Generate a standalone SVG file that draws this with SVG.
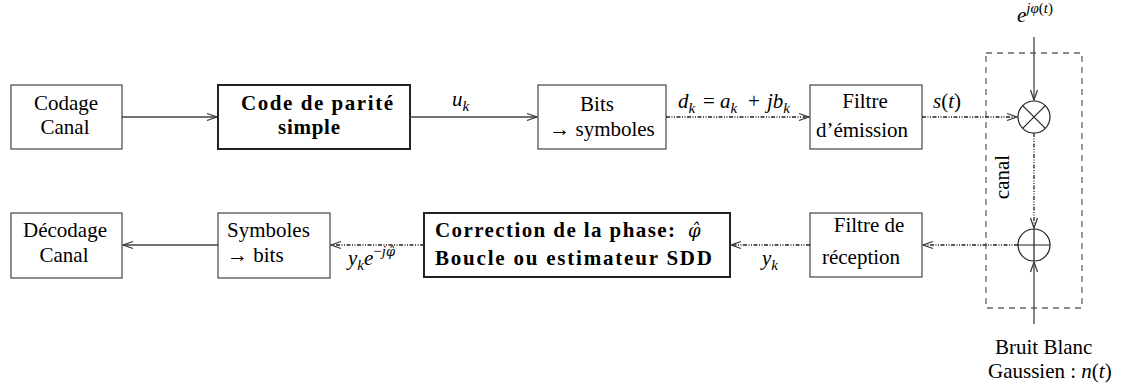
<svg xmlns="http://www.w3.org/2000/svg" width="1133" height="389" viewBox="0 0 1133 389">
<style>
  .box { fill: #fff; stroke: #444; stroke-width: 1.2; }
  .bbox { fill: #fff; stroke: #222; stroke-width: 2; }
  .t { font-family: "Liberation Serif", "Times New Roman", serif; font-size: 21px; fill: #000; }
  .b { font-weight: bold; }
  .i { font-style: italic; }
  .sub { font-size: 15px; }
  .ph { font-family: "DejaVu Serif", serif; font-style: italic; font-size: 18px; }
  .phs { font-family: "DejaVu Serif", serif; font-style: italic; font-size: 13px; }
  .solid { fill: none; stroke: #444; stroke-width: 1.3; }
  .dd { fill: none; stroke: #222; stroke-width: 1.3; stroke-dasharray: 4 1.5 1 1.5 1 1.5; }
  .chan { fill: none; stroke: #666; stroke-width: 1.3; stroke-dasharray: 6 5; }
  .op { fill: #fff; stroke: #222; stroke-width: 1.2; }
</style>
<defs>
  <marker id="arr" markerUnits="userSpaceOnUse" viewBox="0 0 12 10" refX="11" refY="5" markerWidth="12" markerHeight="10" orient="auto">
    <path d="M1,1.5 L11,5 L1,8.5" fill="none" stroke="#333" stroke-width="1.2"/>
  </marker>
</defs>

<g id="codage">
  <rect class="box" x="11" y="85" width="111" height="64"/>
  <text class="t" x="66" y="110" text-anchor="middle">Codage</text>
  <text class="t" x="65" y="134" text-anchor="middle">Canal</text>
</g>
<g id="parite">
  <rect class="bbox" x="218" y="85" width="192" height="64"/>
  <text class="t b" x="241" y="110" textLength="152" lengthAdjust="spacing">Code de parité</text>
  <text class="t b" x="278" y="134" textLength="62" lengthAdjust="spacing">simple</text>
</g>
<g id="bits-symboles">
  <rect class="box" x="538" y="85" width="128" height="64"/>
  <text class="t" x="597" y="111" text-anchor="middle">Bits</text>
  <text class="t" x="602" y="136" text-anchor="middle">→ symboles</text>
</g>
<g id="filtre-emission">
  <rect class="box" x="810" y="85" width="112" height="64"/>
  <text class="t" x="865" y="108" text-anchor="middle">Filtre</text>
  <text class="t" x="862" y="137" text-anchor="middle">d’émission</text>
</g>
<g id="canal">
  <rect class="chan" x="986" y="53" width="96" height="255"/>
  <text class="t" transform="translate(1009,177) rotate(-90)" text-anchor="middle">canal</text>
</g>
<g id="mult">
  <circle class="op" cx="1034" cy="117" r="16"/>
  <path d="M1022.7,105.7 L1045.3,128.3 M1045.3,105.7 L1022.7,128.3" stroke="#222" stroke-width="1.2"/>
</g>
<g id="add">
  <circle class="op" cx="1034" cy="245" r="16"/>
  <path d="M1018,245 L1050,245 M1034,229 L1034,261" stroke="#222" stroke-width="1.2"/>
</g>
<g id="filtre-reception">
  <rect class="box" x="810" y="213" width="112" height="64"/>
  <text class="t" x="869" y="232" text-anchor="middle">Filtre de</text>
  <text class="t" x="861" y="264" text-anchor="middle">réception</text>
</g>
<g id="correction">
  <rect class="bbox" x="424" y="213" width="306" height="64"/>
  <text class="t" x="435" y="237"><tspan class="b" textLength="240" lengthAdjust="spacing">Correction de la phase:</tspan><tspan class="ph" x="688">φ̂</tspan></text>
  <text class="t b" x="435" y="265" textLength="277" lengthAdjust="spacing">Boucle ou estimateur SDD</text>
</g>
<g id="symboles-bits">
  <rect class="box" x="218" y="213" width="112" height="65"/>
  <text class="t" x="227" y="237">Symboles</text>
  <text class="t" x="227" y="262">→ bits</text>
</g>
<g id="decodage">
  <rect class="box" x="11" y="213" width="111" height="65"/>
  <text class="t" x="65" y="237" text-anchor="middle">Décodage</text>
  <text class="t" x="64" y="262" text-anchor="middle">Canal</text>
</g>

<g id="labels">
  <text class="t i" x="452" y="106">u<tspan class="sub" dy="5">k</tspan></text>
  <text class="t" x="678" y="108"><tspan class="i">d</tspan><tspan class="sub i" dy="5">k</tspan><tspan x="703" dy="-5">=</tspan><tspan class="i" x="720">a</tspan><tspan class="sub i" dy="5">k</tspan><tspan x="748" dy="-5">+</tspan><tspan class="i" x="767">jb</tspan><tspan class="sub i" dy="5">k</tspan></text>
  <text class="t" x="933" y="108"><tspan class="i">s</tspan>(<tspan class="i">t</tspan>)</text>
  <text class="t" x="1017" y="22"><tspan class="i">e</tspan><tspan class="sub" dy="-9"><tspan class="i">jφ</tspan>(<tspan class="i">t</tspan>)</tspan></text>
  <text class="t" x="762" y="265"><tspan class="i">y</tspan><tspan class="sub i" dy="5">k</tspan></text>
  <text class="t" x="348" y="265"><tspan class="i">y</tspan><tspan class="sub i" dy="5">k</tspan><tspan class="i" dy="-5">e</tspan><tspan class="sub" dy="-9">−<tspan class="i">j</tspan><tspan class="phs">φ̂</tspan></tspan></text>
  <text class="t" x="995" y="354">Bruit Blanc</text>
  <text class="t" x="988" y="378">Gaussien : <tspan class="i">n</tspan>(<tspan class="i">t</tspan>)</text>
</g>

<g id="connectors">
  <line class="solid" x1="122" y1="117" x2="217" y2="117" marker-end="url(#arr)"/>
  <line class="solid" x1="410" y1="117" x2="537" y2="117" marker-end="url(#arr)"/>
  <line class="dd" x1="666" y1="117" x2="809" y2="117" marker-end="url(#arr)"/>
  <line class="dd" x1="922" y1="117" x2="1017" y2="117" marker-end="url(#arr)"/>
  <line class="solid" x1="1034" y1="37" x2="1034" y2="100" marker-end="url(#arr)"/>
  <line class="dd" x1="1034" y1="133" x2="1034" y2="228" marker-end="url(#arr)"/>
  <line class="solid" x1="1034" y1="324" x2="1034" y2="262" marker-end="url(#arr)"/>
  <line class="dd" x1="1018" y1="245" x2="923" y2="245" marker-end="url(#arr)"/>
  <line class="dd" x1="810" y1="245" x2="731" y2="245" marker-end="url(#arr)"/>
  <line class="dd" x1="424" y1="245" x2="331" y2="245" marker-end="url(#arr)"/>
  <line class="solid" x1="218" y1="245" x2="123" y2="245" marker-end="url(#arr)"/>
</g>
</svg>
